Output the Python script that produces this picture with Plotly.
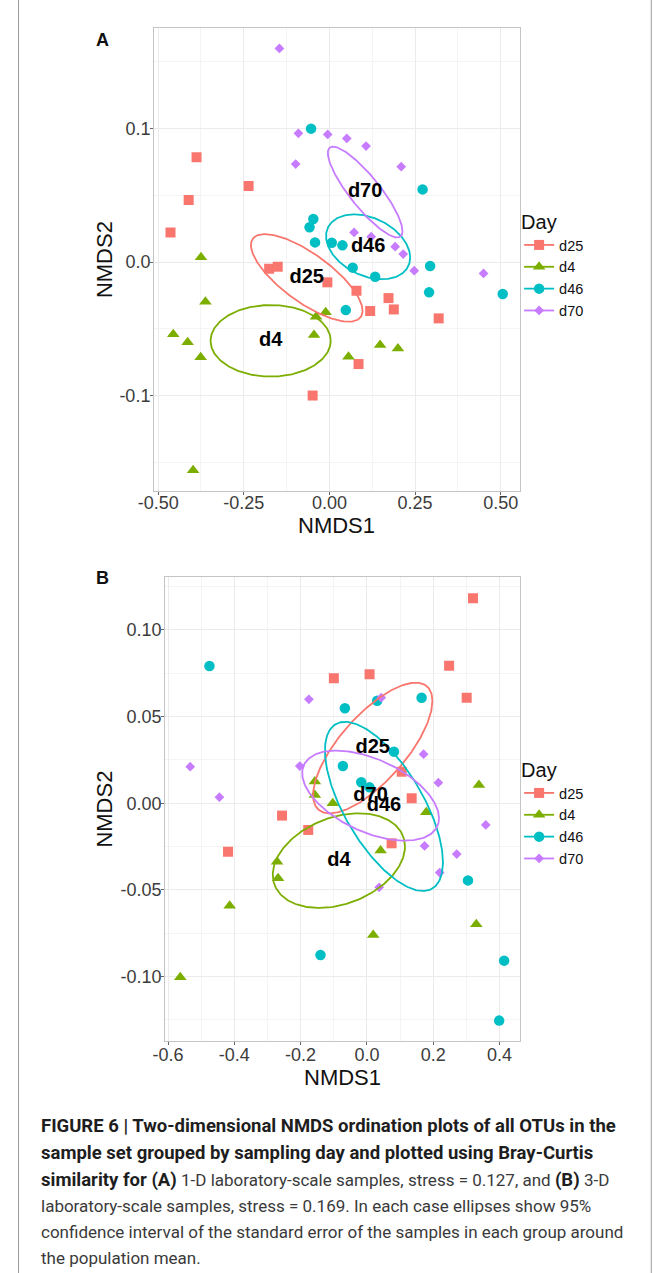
import numpy as np
import plotly.graph_objects as go

# ---------------- data ----------------
groups = ["d25", "d4", "d46", "d70"]
colors = ["#F8766D", "#7CAE00", "#00BFC4", "#C77CFF"]
symbols = ["square", "triangle-up", "circle", "diamond"]
msizes = [10, 11, 10.5, 7.5]

# Panel A (1-D laboratory-scale)
A_d25_x = [-0.388, -0.411, -0.464, -0.236, -0.176, -0.151, -0.006, 0.079, 0.1725, 0.119, 0.188, 0.319, 0.085, -0.049]
A_d25_y = [0.0784, 0.0464, 0.0222, 0.0569, -0.005, -0.0035, -0.0152, -0.0215, -0.027, -0.0367, -0.0355, -0.0422, -0.0764, -0.100]
A_d4_x = [-0.375, -0.362, -0.456, -0.414, -0.376, -0.039, -0.011, -0.045, 0.148, 0.200, 0.0556, -0.398]
A_d4_y = [0.0035, -0.0297, -0.054, -0.060, -0.0714, -0.041, -0.0377, -0.0547, -0.0622, -0.0647, -0.071, -0.156]
A_d46_x = [-0.0536, -0.047, -0.058, -0.042, 0.0068, 0.038, 0.068, 0.1335, 0.0478, 0.272, 0.294, 0.291, 0.506]
A_d46_y = [0.0999, 0.0322, 0.026, 0.0147, 0.0145, 0.0125, -0.0042, -0.011, -0.036, 0.0544, -0.003, -0.0227, -0.024]
A_d70_x = [-0.146, -0.0906, -0.005, 0.0507, 0.107, -0.0985, 0.2096, 0.072, 0.122, 0.192, 0.2154, 0.2476, 0.450]
A_d70_y = [0.160, 0.0964, 0.0956, 0.0926, 0.0869, 0.0734, 0.0714, 0.0222, 0.019, 0.0115, 0.006, -0.0065, -0.0085]

# Panel A ellipses: centre, half-extents and correlation
A_ell_cx = [-0.0663, -0.1716, 0.113, 0.1043]
A_ell_cy = [-0.0119, -0.0590, 0.0114, 0.0524]
A_ell_sx = [0.163, 0.1754, 0.1228, 0.109]
A_ell_sy = [0.0328, 0.0268, 0.0243, 0.0340]
A_ell_r = [-0.75, 0.0, -0.33, -0.86]

# Panel B (3-D laboratory-scale)
B_d25_x = [0.320, 0.248, -0.0997, 0.008, 0.301, 0.105, 0.135, -0.256, -0.177, 0.0745, -0.419]
B_d25_y = [0.1183, 0.0794, 0.0721, 0.0744, 0.0609, 0.0182, 0.0029, -0.0071, -0.0154, -0.0231, -0.0279]
B_d4_x = [-0.157, -0.157, -0.103, 0.338, 0.179, 0.0413, -0.271, -0.268, 0.330, 0.019, -0.414, -0.563]
B_d4_y = [0.0125, 0.0048, 0.0, 0.0106, -0.0052, -0.0273, -0.0337, -0.0433, -0.0698, -0.076, -0.0591, -0.1004]
B_d46_x = [-0.475, -0.0665, 0.031, 0.165, 0.0816, -0.0725, -0.017, 0.008, 0.305, 0.414, 0.399, -0.140]
B_d46_y = [0.0792, 0.0548, 0.0592, 0.0609, 0.0298, 0.0215, 0.0121, 0.0092, -0.0445, -0.0908, -0.1254, -0.0875]
B_d70_x = [-0.175, -0.533, -0.445, -0.2024, 0.0432, 0.171, 0.2155, 0.174, 0.271, 0.2196, 0.3586, 0.037]
B_d70_y = [0.060, 0.0211, 0.0035, 0.0215, 0.0609, 0.0283, 0.0119, -0.0246, -0.0293, -0.040, -0.0125, -0.0485]

B_ell_cx = [0.0176, -0.0846, 0.0514, 0.0111]
B_ell_cy = [0.0319, -0.0331, -0.0018, 0.0044]
B_ell_sx = [0.180, 0.1994, 0.178, 0.2064]
B_ell_sy = [0.0377, 0.0273, 0.0488, 0.026]
B_ell_r = [0.72, 0.30, -0.66, -0.50]

# ticks
A_xticks = [-0.50, -0.25, 0.00, 0.25, 0.50]
A_xticktext = ["-0.50", "-0.25", "0.00", "0.25", "0.50"]
A_xminor = [-0.375, -0.125, 0.125, 0.375]
A_yticks = [-0.1, 0.0, 0.1]
A_yticktext = ["-0.1", "0.0", "0.1"]
A_yminor = [-0.15, -0.05, 0.05, 0.15]
B_xticks = [-0.6, -0.4, -0.2, 0.0, 0.2, 0.4]
B_xticktext = ["-0.6", "-0.4", "-0.2", "0.0", "0.2", "0.4"]
B_xminor = [-0.5, -0.3, -0.1, 0.1, 0.3]
B_yticks = [-0.10, -0.05, 0.00, 0.05, 0.10]
B_yticktext = ["-0.10", "-0.05", "0.00", "0.05", "0.10"]
B_yminor = [-0.125, -0.075, -0.025, 0.025, 0.075, 0.125]

BOLD = '<b><span style="font-size:18.5px;color:#1E1E1E">%s</span></b>'
REG = '<span style="font-size:17px;color:#3A3A3A">%s</span>'
caption_lines = [
    BOLD % "FIGURE 6 | Two-dimensional NMDS ordination plots of all OTUs in the",
    BOLD % "sample set grouped by sampling day and plotted using Bray-Curtis",
    BOLD % "similarity for (A)" + REG % " 1-D laboratory-scale samples, stress = 0.127, and " + BOLD % "(B)" + REG % " 3-D",
    REG % "laboratory-scale samples, stress = 0.169. In each case ellipses show 95%",
    REG % "confidence interval of the standard error of the samples in each group around",
    REG % "the population mean.",
]

W, H = 672, 1273
FONT = "Liberation Sans, Arial, sans-serif"


def ellipse(cx, cy, sx, sy, r, n=240):
    t = np.linspace(0, 2 * np.pi, n)
    x = cx + sx * np.cos(t)
    y = cy + sy * (r * np.cos(t) + np.sqrt(1 - r * r) * np.sin(t))
    return x, y


fig = go.Figure()

panels = [
    dict(xa="x", ya="y", leg="legend",
         pts=[(A_d25_x, A_d25_y), (A_d4_x, A_d4_y), (A_d46_x, A_d46_y), (A_d70_x, A_d70_y)],
         ell=(A_ell_cx, A_ell_cy, A_ell_sx, A_ell_sy, A_ell_r)),
    dict(xa="x2", ya="y2", leg="legend2",
         pts=[(B_d25_x, B_d25_y), (B_d4_x, B_d4_y), (B_d46_x, B_d46_y), (B_d70_x, B_d70_y)],
         ell=(B_ell_cx, B_ell_cy, B_ell_sx, B_ell_sy, B_ell_r)),
]

for p in panels:
    for i, g in enumerate(groups):
        px, py = p["pts"][i]
        fig.add_trace(go.Scatter(
            x=px, y=py, mode="markers", xaxis=p["xa"], yaxis=p["ya"],
            marker=dict(symbol=symbols[i], color=colors[i], size=msizes[i], line=dict(width=0)),
            showlegend=False, hoverinfo="skip"))
    cx, cy, sx, sy, rr = p["ell"]
    for i, g in enumerate(groups):
        ex, ey = ellipse(cx[i], cy[i], sx[i], sy[i], rr[i])
        fig.add_trace(go.Scatter(
            x=ex, y=ey, mode="lines", xaxis=p["xa"], yaxis=p["ya"],
            line=dict(color=colors[i], width=1.8), showlegend=False, hoverinfo="skip"))
    fig.add_trace(go.Scatter(
        x=cx, y=cy, text=groups, mode="text", xaxis=p["xa"], yaxis=p["ya"],
        textfont=dict(family=FONT, size=20, color="black", weight="bold"),
        showlegend=False, hoverinfo="skip"))
    for i, g in enumerate(groups):
        fig.add_trace(go.Scatter(
            x=[None], y=[None], mode="lines+markers", name=g, legend=p["leg"],
            xaxis=p["xa"], yaxis=p["ya"],
            marker=dict(symbol=symbols[i], color=colors[i], size=msizes[i]),
            line=dict(color=colors[i], width=1.8)))

tickfont = dict(family=FONT, size=18, color="#3C3C3C")
titlefont = dict(family=FONT, size=22, color="#111")

# the photograph maps page x to 0.975*x + 17.5; positions below are given in
# picture pixels and converted back to page fractions
SX, OX = 0.975, 17.5


def px2x(px):
    return ((px - OX) / SX) / W


def px2y(py):
    return 1 - py / H


def axis(domain, rng, tv, tt, minor, anchor, lblshift):
    return dict(
        domain=domain, range=rng, anchor=anchor,
        tickmode="array", tickvals=tv, ticktext=tt,
        minor=dict(tickmode="array", tickvals=minor, showgrid=True, gridcolor="#F4F4F4", gridwidth=0.8, ticks=""),
        showgrid=True, gridcolor="#EBEBEB", gridwidth=1.1,
        zeroline=False, showline=True, linecolor="#C4C4C4", linewidth=1.3, mirror=True,
        ticks="outside", ticklen=3, tickcolor="#666", tickwidth=1,
        tickfont=tickfont, ticklabelstandoff=lblshift,
    )


legend_common = dict(
    xanchor="left", yanchor="top",
    title=dict(text="Day", font=dict(family=FONT, size=20, color="#111")),
    font=dict(family=FONT, size=14.5, color="#111"),
    bgcolor="rgba(0,0,0,0)", itemwidth=30, tracegroupgap=0,
)

fig.update_layout(
    width=W, height=H, autosize=False,
    margin=dict(l=0, r=0, t=0, b=0),
    paper_bgcolor="white", plot_bgcolor="white",
    xaxis=axis([px2x(155.5), px2x(520.7)], [-0.5117, 0.5559], A_xticks, A_xticktext, A_xminor, "y", -8),
    yaxis=axis([px2y(491), px2y(28)], [-0.1715, 0.1753], A_yticks, A_yticktext, A_yminor, "x", -4),
    xaxis2=axis([px2x(166.7), px2x(520.7)], [-0.608, 0.4613], B_xticks, B_xticktext, B_xminor, "y2", -5),
    yaxis2=axis([px2y(1040.7), px2y(577.3)], [-0.137, 0.1304], B_yticks, B_yticktext, B_yminor, "x2", -4),
    legend=dict(x=px2x(520), y=px2y(203), **legend_common),
    legend2=dict(x=px2x(520), y=px2y(751), **legend_common),
    font=dict(family=FONT),
)

# axis titles
for txt, xx, yy, ang in [("NMDS1", 338, 525, 0), ("NMDS2", 106, 259.5, -90),
                         ("NMDS1", 343.7, 1077, 0), ("NMDS2", 105, 809, -90)]:
    fig.add_annotation(x=px2x(xx), y=px2y(yy), xref="paper", yref="paper", text=txt, textangle=ang,
                       showarrow=False, xanchor="center", yanchor="middle", font=titlefont)

for letter, yy in [("A", 40), ("B", 578)]:
    fig.add_annotation(x=px2x(104), y=px2y(yy), xref="paper", yref="paper", text="<b>%s</b>" % letter,
                       showarrow=False, xanchor="center", yanchor="middle",
                       font=dict(family=FONT, size=18, color="#111"))

cap_y = [1126, 1153, 1180, 1206, 1232, 1258]
for line, yy in zip(caption_lines, cap_y):
    fig.add_annotation(x=px2x(40), y=px2y(yy), xref="paper", yref="paper", text=line,
                       showarrow=False, xanchor="left", yanchor="middle", align="left",
                       font=dict(family="Roboto, Arial, sans-serif", size=18, color="#222"))

for xx in [20, 652]:
    fig.add_shape(type="line", xref="paper", yref="paper", x0=px2x(xx), x1=px2x(xx), y0=0, y1=1,
                  line=dict(color="#9A9A9A", width=1))

fig.write_html("out.html", config={"displayModeBar": False},
               post_script="document.body.style.margin='0';document.body.style.padding='0';"
                           "document.body.style.overflow='hidden';")
